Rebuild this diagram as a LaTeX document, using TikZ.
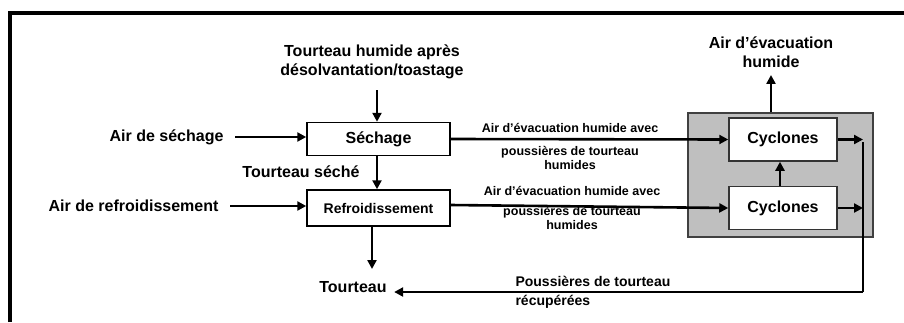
\documentclass[tikz,border=0pt]{standalone}
\usepackage{fontspec}
\setmainfont{Liberation Sans}
\usetikzlibrary{arrows.meta, positioning}

\begin{document}
\begin{tikzpicture}[
  x=1pt, y=-1pt,
  box/.style={
    rectangle, draw=black, line width=1.5pt, fill=white,
    minimum width=143pt, minimum height=33pt, align=center,
    font=\fontsize{16}{19}\selectfont\bfseries
  },
  cyc/.style={box, draw=black!80, minimum width=108pt, minimum height=43pt},
  lbl/.style={align=center, font=\fontsize{16}{19}\selectfont\bfseries},
  small/.style={align=center, font=\fontsize{12.5}{14}\selectfont\bfseries, inner sep=1pt},
  arr/.style={-{Triangle[length=9pt, width=9pt]}, line width=2.6pt},
  node distance=24pt and 24pt
]
  \useasboundingbox (0,0) rectangle (904,322);
  \draw[line width=3.5pt] (10,322) -- (10,13) -- (904,13);

  % Nodes
  \node[draw=black!75, fill=black!25, line width=1.5pt,
        minimum width=185pt, minimum height=124pt] (unit) at (780.5,175) {};
  \node[box] (sech) at (378.5,139) {Séchage};
  \node[box, minimum height=36pt, font=\fontsize{14}{17}\selectfont\bfseries,
        below=33pt of sech] (refr) {Refroidissement};
  \node[cyc] (cyc1) at (783,139.5) {Cyclones};
  \node[cyc, below=24pt of cyc1] (cyc2) {Cyclones};

  % Labels
  \node[lbl] (feed) at (372,62) {Tourteau humide après\\désolvantation/toastage};
  \node[lbl, anchor=east] (airsech) at (227,137) {Air de séchage};
  \node[lbl, anchor=east] (airrefr) at (222,206) {Air de refroidissement};
  \node[lbl] (seche) at (301,172) {Tourteau séché};
  \node[lbl] (tourteau) at (353,287) {Tourteau};
  \node[lbl] (evac) at (771,52) {Air d’évacuation\\humide};
  \node[lbl, align=left, anchor=west, font=\fontsize{14}{19}\selectfont\bfseries]
    (dust) at (512,292) {Poussières de tourteau\\récupérées};
  \node[small] (lab1a) at (570,128) {Air d’évacuation humide avec};
  \node[small] (lab1b) at (570,158) {poussières de tourteau\\humides};
  \node[small] (lab2a) at (572,191) {Air d’évacuation humide avec};
  \node[small] (lab2b) at (572,218) {poussières de tourteau\\humides};

  \coordinate (feedin) at (377,90);
  \coordinate (tourin) at (372,269);
  \coordinate (c1out) at (863,142);
  \coordinate (c2out) at (863,206);
  \coordinate (turn) at (863,292);

  % Arrows
  \draw[arr] (feedin) -- (feedin |- sech.north);
  \draw[arr, shorten <=8pt] (airsech.east) -- (airsech.east -| sech.west);
  \draw[arr, shorten <=8pt] (airrefr.east) -- (airrefr.east -| refr.west);
  \draw[arr] (sech.south -| feedin) -- (refr.north -| feedin);
  \draw[arr] (refr.south -| tourin) -- (tourin);
  \draw[arr] (sech.east) -- (cyc1.west);
  \draw[arr] ([yshift=3pt]refr.east) -- (cyc2.west);
  \draw[arr] ([xshift=-3pt]cyc2.north) -- ([xshift=-3pt]cyc1.south);
  \draw[arr, shorten >=4pt] (unit.north -| evac) -- (evac.south);
  \draw[arr] (cyc1.east) -- (cyc1.east -| c1out);
  \draw[arr] (cyc2.east) -- (cyc2.east -| c2out);
  \draw[line width=1.3pt] (c1out) -- (turn);
  \draw[arr, shorten >=4pt] (turn) -- (tourteau.east |- turn);
\end{tikzpicture}
\end{document}
